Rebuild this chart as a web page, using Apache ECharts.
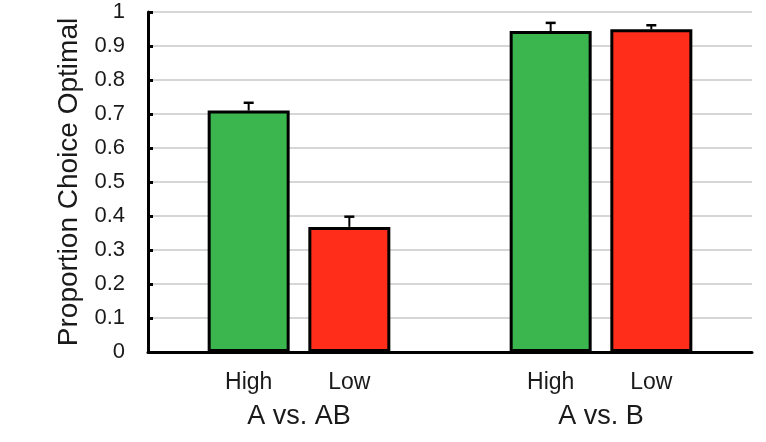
<!DOCTYPE html>
<html>
<head>
<meta charset="utf-8">
<script src="https://cdn.jsdelivr.net/npm/echarts@6/dist/echarts.min.js"></script>
<style>
  html, body { margin: 0; padding: 0; background: #ffffff; }
  #chart { width: 766px; height: 442px; }
</style>
</head>
<body>
<div id="chart"></div>
<script>
// slots along the x axis; empty strings are spacers between the groups
const slotLabels = ["", "High", "Low", "", "High", "Low", ""];
const groupNames = ["A vs. AB", "A vs. B"];

// proportion choice optimal, per slot ("-" = no bar there)
const highValues = ["-", 0.71, "-", "-", 0.944, "-", "-"];
const lowValues = ["-", "-", 0.368, "-", "-", 0.949, "-"];
// upper error (SEM) per slot
const highErrors = [0, 0.023, 0, 0, 0.024, 0, 0];
const lowErrors = [0, 0, 0.03, 0, 0, 0.012, 0];

const yTicks = [0, 1, 0.1];

let errorData = [];
for (let i = 0; i < slotLabels.length; i++) {
	if (highValues[i] !== "-") errorData.push([i, highValues[i], highValues[i] + highErrors[i]]);
	if (lowValues[i] !== "-") errorData.push([i, lowValues[i], lowValues[i] + lowErrors[i]]);
}

const font = "Liberation Sans, Arial, sans-serif";

let chart = echarts.init(document.getElementById("chart"));
let option = {
	animation: false,
	grid: { left: 148, right: 14, top: 12, bottom: 90 },
	xAxis: [
		{
			type: "category",
			data: slotLabels,
			boundaryGap: false,
			axisLine: { lineStyle: { color: "#000", width: 3 } },
			axisTick: { show: false },
			axisLabel: { interval: 0, margin: 19, fontSize: 23, color: "#1a1a1a", fontFamily: font },
			splitLine: { show: false }
		},
		{
			type: "value",
			position: "bottom",
			min: 0,
			max: 6,
			interval: 1.5,
			axisLine: { show: false },
			axisTick: { show: false },
			splitLine: { show: false },
			axisLabel: {
				margin: 51,
				fontSize: 27,
				color: "#1a1a1a",
				fontFamily: font,
				formatter: function(v) {
					if (v === 1.5) return groupNames[0];
					if (v === 4.5) return groupNames[1];
					return "";
				}
			}
		}
	],
	yAxis: {
		type: "value",
		min: yTicks[0],
		max: yTicks[1],
		interval: yTicks[2],
		name: "Proportion Choice Optimal",
		nameLocation: "middle",
		nameGap: 64,
		nameTextStyle: { fontSize: 28, color: "#1a1a1a", fontFamily: font },
		axisLine: { show: true, lineStyle: { color: "#000", width: 3 } },
		axisTick: { show: true, inside: true, length: 5, lineStyle: { color: "#000", width: 3 } },
		axisLabel: { margin: 23, fontSize: 22, color: "#1a1a1a", fontFamily: font },
		splitLine: { lineStyle: { color: "#c8c8c8", width: 1.5 } }
	},
	series: [
		{
			name: "High",
			type: "bar",
			data: highValues,
			barWidth: 82,
			barGap: "-100%",
			itemStyle: { color: "#3bb54e", borderColor: "#000", borderWidth: 3 }
		},
		{
			name: "Low",
			type: "bar",
			data: lowValues,
			barWidth: 82,
			barGap: "-100%",
			itemStyle: { color: "#ff2d1a", borderColor: "#000", borderWidth: 3 }
		},
		{
			type: "custom",
			z: 5,
			data: errorData,
			renderItem: function(params, api) {
				let base = api.coord([api.value(0), api.value(1)]);
				let top = api.coord([api.value(0), api.value(2)]);
				let half = 5;
				return {
					type: "group",
					children: [
						{
							type: "line",
							shape: { x1: top[0], y1: base[1], x2: top[0], y2: top[1] },
							style: { stroke: "#000", lineWidth: 2 }
						},
						{
							type: "line",
							shape: { x1: top[0] - half, y1: top[1], x2: top[0] + half, y2: top[1] },
							style: { stroke: "#000", lineWidth: 2.5 }
						}
					]
				};
			}
		}
	]
};
chart.setOption(option);
</script>
</body>
</html>
